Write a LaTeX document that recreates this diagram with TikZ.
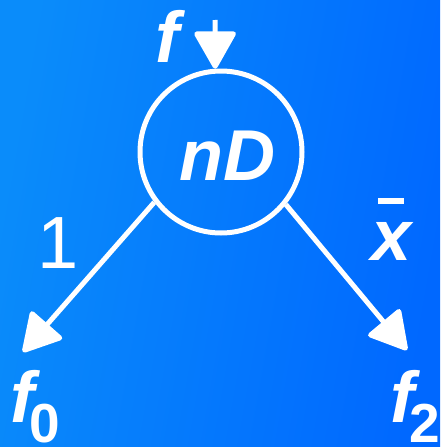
\documentclass[tikz,border=0pt]{standalone}
\usepackage{fontspec}
\setmainfont{Liberation Sans}
\usetikzlibrary{arrows.meta}
\definecolor{bgleft}{RGB}{10,140,250}
\definecolor{bgright}{RGB}{0,104,255}
\tikzset{
  every node/.style={text=white, inner sep=0pt},
  lbl/.style={font=\fontsize{72}{80}\selectfont\bfseries\itshape},
  flow/.style={draw=white, line width=5pt, -{Triangle[length=40pt, width=44pt, round]}},
}
\newcommand{\subtext}[1]{\raisebox{-20pt}{\fontsize{55}{60}\selectfont\bfseries\upshape #1}}

\begin{document}
\begin{tikzpicture}[x=1pt, y=-1pt]

  % Background.
  \useasboundingbox (0,0) rectangle (440,447);
  \shade[left color=bgleft, right color=bgright, shading angle=80] (0,0) rectangle (440,447);
  \clip (0,0) rectangle (440,447);

  % Node and its label.
  \node[circle, draw=white, line width=5pt, minimum size=162pt] (nd) at (221,152) {};
  \node[lbl, anchor=base] (ndtext) at (227,180) {nD};

  % Incoming arrow.
  \coordinate (fstart) at (215,20);
  \node[lbl, anchor=base] (fin) at (167,62) {f};
  \draw[flow] (fstart) -- (nd.94);

  % Outgoing arrows.
  \coordinate (tipzero) at (23,352);
  \coordinate (tiptwo) at (407,350);
  \draw[flow] (nd.217) -- (tipzero);
  \draw[flow] (nd.321) -- (tiptwo);

  % Edge labels.
  \node[font=\fontsize{74}{80}\selectfont, anchor=base] (lone) at (58,268) {1};
  \node[lbl, anchor=base] (lxbar) at (392,260)
    {\makebox[0pt][l]{\hspace{6pt}\rule[56pt]{26pt}{6pt}}x};

  % Successors.
  \node[lbl, anchor=base west] (fzero) at (10,422) {f\kern-5pt\subtext{0}};
  \node[lbl, anchor=base west] (ftwo) at (390,422) {f\kern-5pt\subtext{2}};

\end{tikzpicture}
\end{document}
